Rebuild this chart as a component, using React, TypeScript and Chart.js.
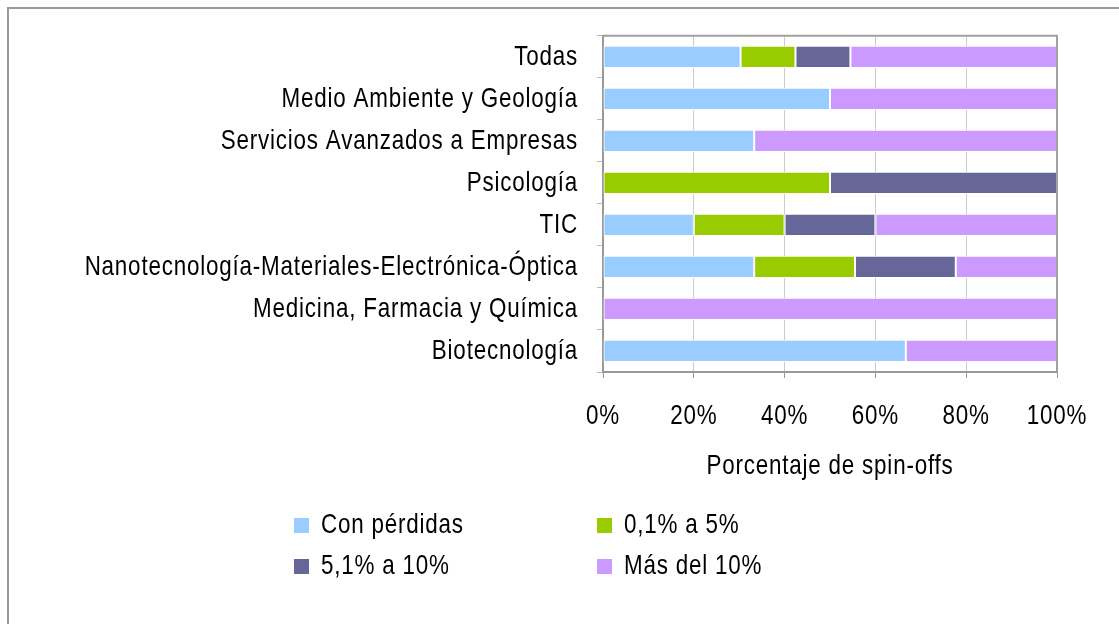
import React, { useEffect, useRef } from 'react';
import { Chart, registerables } from 'chart.js';

Chart.register(...registerables);

const categories = [
  'Todas',
  'Medio Ambiente y Geología',
  'Servicios Avanzados a Empresas',
  'Psicología',
  'TIC',
  'Nanotecnología-Materiales-Electrónica-Óptica',
  'Medicina, Farmacia y Química',
  'Biotecnología',
];
const conPerdidas = [30.3, 50, 33.3, 0, 20, 33.3, 0, 66.7];
const de01a5 = [12.1, 0, 0, 50, 20, 22.2, 0, 0];
const de51a10 = [12.1, 0, 0, 50, 20, 22.2, 0, 0];
const masDel10 = [45.5, 50, 66.7, 0, 40, 22.3, 100, 33.3];
const seriesLabels = ['Con pérdidas', '0,1% a 5%', '5,1% a 10%', 'Más del 10%'];
const seriesColors = ['#99ccff', '#99cc00', '#666699', '#cc99ff'];
const xMin = 0;
const xMax = 100;
const xStep = 20;
const axisTitle = 'Porcentaje de spin-offs';

const FONT = "'Liberation Sans', Arial, sans-serif";
const FS = 28;
const LS = '1px';
const SX = 0.8; // horizontal condensing of text, like the narrow original

function condenseText(ctx: any) {
  if (ctx.__condensed) return;
  ctx.__condensed = true;
  const origFill = ctx.fillText.bind(ctx);
  const origMeasure = ctx.measureText.bind(ctx);
  ctx.fillText = (text: string, x: number, y: number, maxWidth?: number) => {
    ctx.save();
    ctx.translate(x, y);
    ctx.scale(SX, 1);
    if (maxWidth !== undefined && maxWidth !== null && !isNaN(maxWidth)) {
      origFill(text, 0, 0, maxWidth / SX);
    } else {
      origFill(text, 0, 0);
    }
    ctx.restore();
  };
  ctx.measureText = (text: string) => {
    const m = origMeasure(text);
    return {
      width: m.width * SX,
      actualBoundingBoxAscent: m.actualBoundingBoxAscent,
      actualBoundingBoxDescent: m.actualBoundingBoxDescent,
      actualBoundingBoxLeft: m.actualBoundingBoxLeft * SX,
      actualBoundingBoxRight: m.actualBoundingBoxRight * SX,
      fontBoundingBoxAscent: m.fontBoundingBoxAscent,
      fontBoundingBoxDescent: m.fontBoundingBoxDescent,
    };
  };
}

export default function App() {
  const ref = useRef<HTMLCanvasElement | null>(null);

  useEffect(() => {
    document.body.style.margin = '0';
    const canvas = ref.current;
    if (!canvas) return;

    const textPlugin = {
      id: 'textStyle',
      beforeLayout(chart: any) {
        condenseText(chart.ctx);
        chart.ctx.letterSpacing = LS;
      },
      beforeDraw(chart: any) {
        condenseText(chart.ctx);
        chart.ctx.letterSpacing = LS;
      },
    };

    const decorPlugin = {
      id: 'decor',
      afterDraw(chart: any) {
        const ctx = chart.ctx;
        const a = chart.chartArea;
        ctx.save();
        ctx.strokeStyle = '#a0a0a0';
        ctx.lineWidth = 2;
        ctx.beginPath();
        ctx.moveTo(a.left, a.top);
        ctx.lineTo(a.right, a.top);
        ctx.lineTo(a.right, a.bottom);
        ctx.stroke();
        ctx.strokeStyle = '#9a9a9a';
        ctx.lineWidth = 2;
        ctx.beginPath();
        ctx.moveTo(8, 624);
        ctx.lineTo(8, 8);
        ctx.lineTo(1119, 8);
        ctx.stroke();
        const cols = [294, 597];
        const rows = [518, 559];
        ctx.font = `${FS}px ${FONT}`;
        ctx.letterSpacing = LS;
        ctx.textBaseline = 'alphabetic';
        ctx.textAlign = 'left';
        chart.data.datasets.forEach((ds: any, i: number) => {
          const x = cols[i % 2];
          const y = rows[Math.floor(i / 2)];
          ctx.fillStyle = ds.backgroundColor;
          ctx.fillRect(x, y, 15, 15);
          ctx.fillStyle = '#000';
          ctx.fillText(ds.label, x + 27, y + 15);
        });
        ctx.restore();
      },
    };

    const datasets = [conPerdidas, de01a5, de51a10, masDel10].map((d, i) => ({
      label: seriesLabels[i],
      data: d,
      backgroundColor: seriesColors[i],
      borderColor: '#ffffff',
      borderWidth: 1,
      borderSkipped: false,
      barPercentage: 0.53,
      categoryPercentage: 1,
    }));

    const chart = new Chart(canvas, {
      type: 'bar',
      data: { labels: categories, datasets },
      options: {
        indexAxis: 'y',
        animation: false,
        responsive: false,
        devicePixelRatio: 1,
        layout: { padding: { left: 0, right: 62, top: 35, bottom: 0 } },
        plugins: {
          legend: { display: false },
          tooltip: { enabled: false },
        },
        scales: {
          x: {
            stacked: true,
            min: xMin,
            max: xMax,
            ticks: {
              stepSize: xStep,
              callback: (v: any) => `${v}%`,
              color: '#000',
              font: { family: FONT, size: FS },
              padding: 21,
              maxRotation: 0,
            },
            grid: {
              color: '#cccccc',
              lineWidth: 1,
              tickColor: '#999999',
              tickLength: 6,
            },
            border: { display: true, color: '#999999', width: 2 },
            title: {
              display: true,
              text: axisTitle,
              color: '#000',
              font: { family: FONT, size: FS },
              padding: { top: 0, bottom: 141 },
            },
            afterFit: (scale: any) => {
              scale.height = 252;
            },
          },
          y: {
            stacked: true,
            ticks: {
              color: '#000',
              font: { family: FONT, size: FS },
              padding: 19,
            },
            grid: {
              offset: true,
              drawOnChartArea: false,
              tickColor: '#bbbbbb',
              tickLength: 6,
            },
            border: { display: true, color: '#999999', width: 2 },
            afterFit: (scale: any) => {
              scale.width = 603;
            },
          },
        },
      },
      plugins: [textPlugin, decorPlugin],
    });

    return () => chart.destroy();
  }, []);

  return (
    <div style={{ width: 1119, height: 624 }}>
      <canvas ref={ref} width={1119} height={624} style={{ display: 'block' }} />
    </div>
  );
}
